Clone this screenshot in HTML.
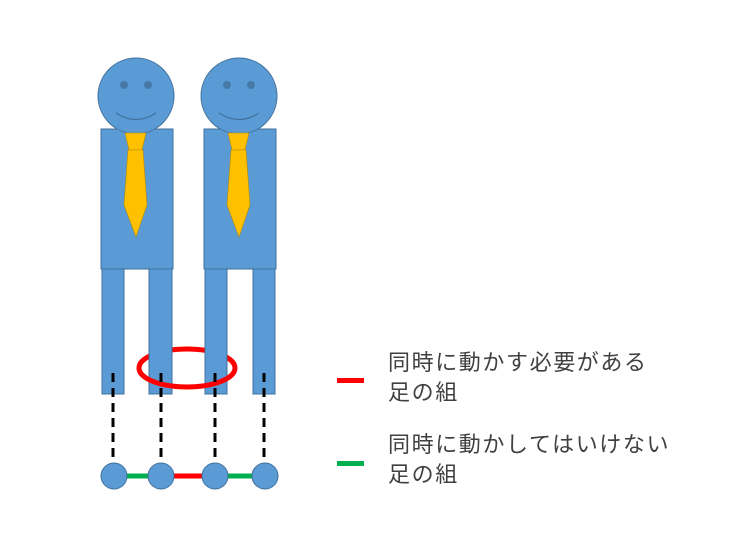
<!DOCTYPE html>
<html><head><meta charset="utf-8"><style>
html,body{margin:0;padding:0;background:#fff;width:756px;height:544px;overflow:hidden}
.t{position:absolute;left:388px;font-family:"Liberation Sans","Noto Sans CJK JP",sans-serif;font-size:22px;letter-spacing:1.6px;color:#404040;line-height:30px;white-space:nowrap}
</style></head><body>
<svg width="756" height="544" style="position:absolute;left:0;top:0">
<defs>
<g id="p">
<rect x="0" y="129" width="72" height="140" fill="#5b9bd5" stroke="#41719c" stroke-width="1"/>
<circle cx="35" cy="96" r="38" fill="#5b9bd5" stroke="#41719c" stroke-width="1"/>
<circle cx="23" cy="85" r="4" fill="#41719c" opacity="0.8"/>
<circle cx="47" cy="85" r="4" fill="#41719c" opacity="0.8"/>
<path d="M15 113 Q35 126 55 113" fill="none" stroke="#41719c" stroke-width="1.3"/>
<path d="M24 133 L45 133 L41 150 L28 150 Z" fill="#ffc000" stroke="#b58a00" stroke-width="0.6"/>
<path d="M27 150 L42 150 L46 205 L35 237 L23 205 Z" fill="#ffc000" stroke="#b58a00" stroke-width="0.6"/>
</g>
</defs>
<use href="#p" x="101"/>
<use href="#p" x="204"/>
<path d="M139 368 A48 19 0 0 1 235 368" fill="none" stroke="#ff0000" stroke-width="5"/>
<g fill="#5b9bd5" stroke="#41719c" stroke-width="1">
<rect x="102" y="269" width="22" height="125"/>
<rect x="149" y="269" width="23" height="125"/>
<rect x="205" y="269" width="22" height="125"/>
<rect x="253" y="269" width="22" height="125"/>
</g>
<path d="M139 368 A48 19 0 0 0 235 368" fill="none" stroke="#ff0000" stroke-width="5"/>
<g stroke="#000" stroke-width="3" stroke-dasharray="9 6">
<line x1="113" y1="373" x2="113" y2="464"/>
<line x1="161" y1="373" x2="161" y2="464"/>
<line x1="215" y1="373" x2="215" y2="464"/>
<line x1="264" y1="373" x2="264" y2="464"/>
</g>
<line x1="125" y1="476" x2="150" y2="476" stroke="#00b050" stroke-width="5"/>
<line x1="172" y1="476" x2="204" y2="476" stroke="#ff0000" stroke-width="5"/>
<line x1="226" y1="476" x2="254" y2="476" stroke="#00b050" stroke-width="5"/>
<g fill="#5b9bd5" stroke="#41719c" stroke-width="1">
<circle cx="114" cy="476" r="13"/>
<circle cx="161" cy="476" r="13"/>
<circle cx="215" cy="476" r="13"/>
<circle cx="265" cy="476" r="13"/>
</g>
<rect x="337" y="378" width="27" height="5" fill="#ff0000"/>
<rect x="337" y="461" width="27" height="5" fill="#00b050"/>
</svg>
<div class="t" style="top:348px">同時に動かす必要がある<br>足の組</div>
<div class="t" style="top:430px">同時に動かしてはいけない<br>足の組</div>
</body></html>
